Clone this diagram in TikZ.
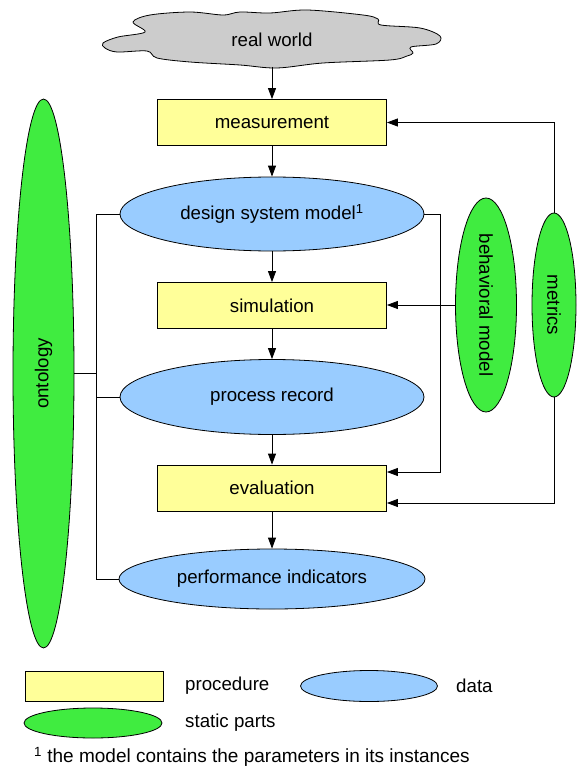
\documentclass[tikz,border=0pt]{standalone}
\usepackage{fontspec}
\setmainfont{Liberation Sans}
\usetikzlibrary{shapes.geometric,arrows.meta}
\definecolor{procY}{HTML}{FFFF99}
\definecolor{dataB}{HTML}{99CCFF}
\definecolor{statG}{RGB}{64,236,64}
\definecolor{cloudG}{HTML}{CCCCCC}
\begin{document}
\begin{tikzpicture}[x=1pt,y=-1pt,
  font=\fontsize{18.7}{22}\selectfont,
  proc/.style={draw, fill=procY, line width=0.8pt, minimum width=229pt, minimum height=46pt, inner sep=0pt},
  dat/.style={draw, fill=dataB, ellipse, line width=0.8pt, inner sep=0pt},
  stat/.style={draw, fill=statG, ellipse, line width=0.8pt, inner sep=0pt},
  conn/.style={line width=0.8pt},
  arr/.style={conn, -{Triangle[length=11pt,width=8pt]}},
  lbl/.style={anchor=west, inner sep=0pt}]
\useasboundingbox (0,0) rectangle (578,773);

% cloud
\draw[fill=cloudG, line width=0.8pt] plot[smooth cycle, tension=0.55] coordinates {(103,43) (118,37) (145,32) (133,22) (150,15) (190,12) (223,15) (240,12) (270,13) (307,10) (363,15) (378,19) (381,25) (420,28) (440,36) (436,44) (411,47) (413,53) (407,56) (390,60) (323,63) (277,68) (240,65) (190,62) (157,58) (147,51) (117,52) (105,48)};
\node (rw) at (272,40) {real world};
\coordinate (cloudb) at (272,67);

% main column
\node[proc] (meas) at (272,122.5) {measurement};
\node[dat, minimum width=304pt, minimum height=74pt] (dsm) at (272,214) {design system model\textsuperscript{1}};
\node[proc] (sim) at (272,305.5) {simulation};
\node[dat, minimum width=304pt, minimum height=75pt] (pr) at (272,397) {process record};
\node[proc] (eval) at (272,488) {evaluation};
\node[dat, minimum width=306pt, minimum height=60pt] (pi) at (272,579) {performance indicators};

% static parts
\node[stat, minimum width=61pt, minimum height=549pt] (ont) at (43.5,373.5) {};
\node[rotate=90] (ontt) at (ont.center) {ontology};
\node[stat, minimum width=61pt, minimum height=214pt] (bm) at (486,305) {};
\node[rotate=-90] (bmt) at (bm.center) {behavioral model};
\node[stat, minimum width=44pt, minimum height=184pt] (met) at (554,305) {};
\node[rotate=-90] (mett) at (met.center) {metrics};

% vertical flow
\draw[arr] (cloudb) -- (meas.north);
\draw[arr] (meas.south) -- (dsm.north);
\draw[arr] (dsm.south) -- (sim.north);
\draw[arr] (sim.south) -- (pr.north);
\draw[arr] (pr.south) -- (eval.north);
\draw[arr] (eval.south) -- (pi.north);

% ontology bus
\draw[conn] (dsm.west) -- ++(-23,0) coordinate (bl) |- (pi.west);
\draw[conn] (pr.west) -- (pr.west -| bl);
\draw[conn] (ont.east) -- (ont.east -| bl);

% right side
\draw[arr] (dsm.east) -- ++(16,0) |- ([yshift=16pt]eval.east);
\draw[arr] (bm.west) -- (bm.west -| sim.east);
\draw[arr] (met.north) |- (meas.east);
\draw[arr] (met.south) |- ([yshift=-15pt]eval.east);

% legend
\node[proc, minimum width=138pt, minimum height=30pt] (lgp) at (94,686) {};
\node[lbl] (lgpt) at (185,686) {procedure};
\node[dat, minimum width=137pt, minimum height=31pt] (lgd) at (369,686) {};
\node[lbl] (lgdt) at (456,686) {data};
\node[stat, minimum width=138pt, minimum height=30pt] (lgs) at (93,723) {};
\node[lbl] (lgst) at (185,723) {static parts};
\node[lbl, font=\fontsize{19}{22}\selectfont] (fn) at (34,757) {\textsuperscript{1} the model contains the parameters in its instances};
\end{tikzpicture}
\end{document}
